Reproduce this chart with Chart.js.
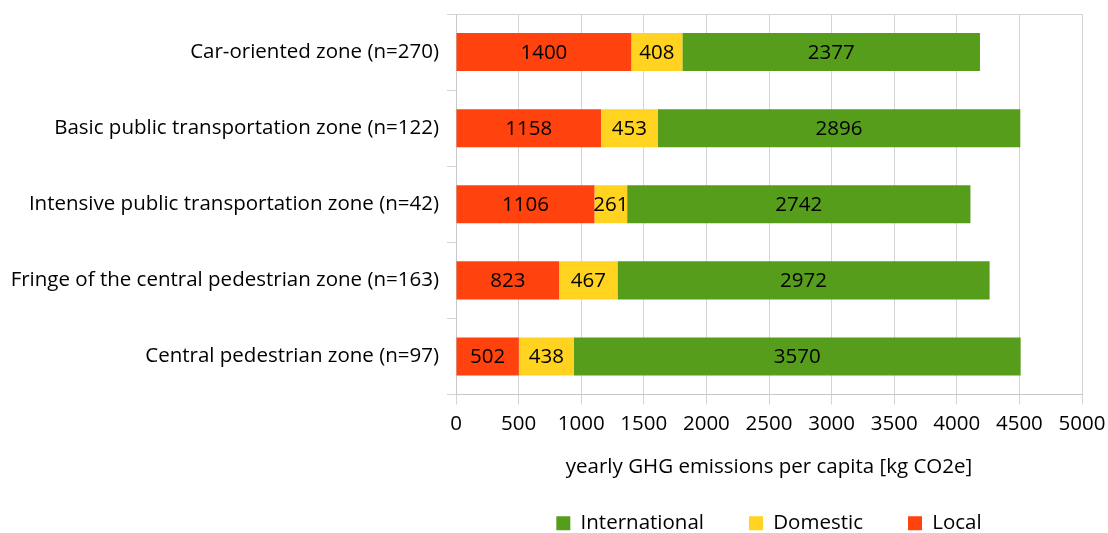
<!DOCTYPE html>
<html>
<head>
<meta charset="utf-8">
<script src="https://cdn.jsdelivr.net/npm/chart.js@4/dist/chart.umd.min.js"></script>
<style>
  html, body { margin: 0; padding: 0; background: #fff; }
  #wrap { width: 1108px; height: 533px; }
</style>
</head>
<body>
<div id="wrap"><canvas id="myChart" width="1108" height="533"></canvas></div>
<script>
// zones (top to bottom)
var zones = [
    "Car-oriented zone (n=270)",
    "Basic public transportation zone (n=122)",
    "Intensive public transportation zone (n=42)",
    "Fringe of the central pedestrian zone (n=163)",
    "Central pedestrian zone (n=97)"
];
var local = [1400, 1158, 1106, 823, 502];
var domestic = [408, 453, 261, 467, 438];
var international = [2377, 2896, 2742, 2972, 3570];
var xTicks = [0, 500, 1000, 1500, 2000, 2500, 3000, 3500, 4000, 4500, 5000];

var fontName = "'Open Sans', Lato, sans-serif";
Chart.defaults.font.family = fontName;
Chart.defaults.font.size = 20.5;
Chart.defaults.color = "#000";

// writes the value in the middle of each bar piece
var barValues = {
    id: "barValues",
    afterDatasetsDraw: function (chart) {
        var ctx = chart.ctx;
        ctx.save();
        ctx.font = "20.5px " + fontName;
        ctx.fillStyle = "#000";
        ctx.textAlign = "center";
        ctx.textBaseline = "middle";
        chart.data.datasets.forEach(function (ds, i) {
            chart.getDatasetMeta(i).data.forEach(function (bar, j) {
                var mid = (bar.x + bar.base) / 2;
                ctx.fillText(ds.data[j], mid, bar.y + 1);
            });
        });
        ctx.restore();
    },
    beforeDatasetsDraw: function (chart) {
        // top frame line of the plot
        var a = chart.chartArea;
        var ctx = chart.ctx;
        ctx.save();
        ctx.strokeStyle = "#d4d4d4";
        ctx.lineWidth = 1;
        ctx.beginPath();
        ctx.moveTo(a.left - 9, a.top + 0.5);
        ctx.lineTo(a.right, a.top + 0.5);
        ctx.stroke();
        ctx.restore();
    },
    afterLayout: function (chart) {
        // legend sits centred under the plot, not the whole canvas
        var lg = chart.legend;
        var a = chart.chartArea;
        var h = lg.bottom - lg.top;
        lg.left = a.left;
        lg.right = a.right;
        lg.top = 468;
        lg.bottom = lg.top + h;
    }
};

new Chart(document.getElementById("myChart"), {
    type: "bar",
    data: {
        labels: zones,
        datasets: [
            { label: "Local", data: local, backgroundColor: "#ff420e" },
            { label: "Domestic", data: domestic, backgroundColor: "#ffd320" },
            { label: "International", data: international, backgroundColor: "#579d1c" }
        ]
    },
    options: {
        indexAxis: "y",
        responsive: false,
        animation: false,
        categoryPercentage: 0.5,
        barPercentage: 1,
        layout: { padding: { top: 14, right: 26, left: 0, bottom: 0 } },
        plugins: {
            legend: {
                position: "bottom",
                reverse: true,
                labels: {
                    boxWidth: 14,
                    boxHeight: 14,
                    padding: 45
                }
            },
            tooltip: { enabled: false }
        },
        scales: {
            x: {
                stacked: true,
                min: 0,
                max: 5000,
                afterBuildTicks: function (scale) {
                    scale.ticks = xTicks.map(function (v) { return { value: v }; });
                },
                grid: { color: "#d4d4d4", tickLength: 10 },
                border: { color: "#c8c8c8" },
                ticks: {
                    padding: 7,
                    callback: function (v) { return String(v); }
                },
                title: {
                    display: true,
                    text: "yearly GHG emissions per capita [kg CO2e]",
                    padding: { top: 0, bottom: -22 }
                },
                afterFit: function (scale) {
                    scale.height = 63;
                    scale.paddingLeft = 0;
                    scale.paddingRight = 0;
                }
            },
            y: {
                stacked: true,
                grid: {
                    offset: true,
                    drawOnChartArea: false,
                    tickLength: 9,
                    color: "#d4d4d4"
                },
                border: { color: "#c8c8c8" },
                ticks: { padding: 8 },
                afterFit: function (scale) {
                    scale.width = 456;
                    scale.paddingTop = 0;
                    scale.paddingBottom = 0;
                }
            }
        }
    },
    plugins: [barValues]
});
</script>
</body>
</html>
